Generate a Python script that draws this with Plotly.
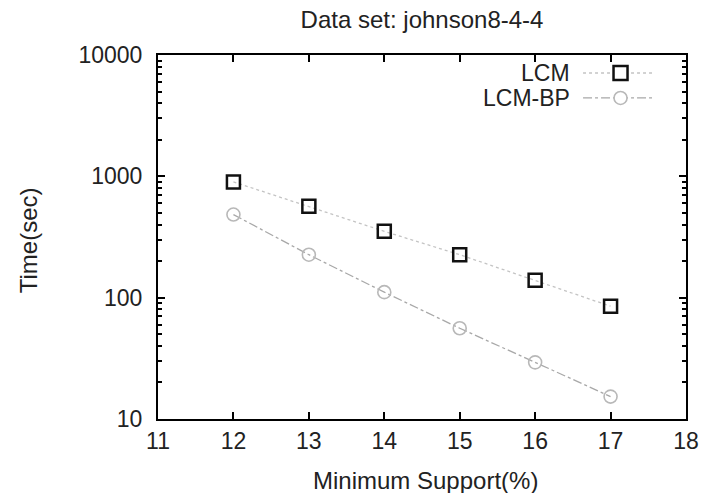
import math
import plotly.graph_objects as go

# ---- data ----
support = [12, 13, 14, 15, 16, 17]
lcm_time = [900, 566, 352, 226, 139, 85]
lcm_bp_time = [484, 226, 111, 56, 29.3, 15.3]
series_names = ["LCM", "LCM-BP"]
x_ticks = [11, 12, 13, 14, 15, 16, 17, 18]
y_ticks = [10, 100, 1000, 10000]
y_tick_text = ["10", "100", "1000", "10000"]
y_minor = [m * d for d in (10, 100, 1000) for m in range(2, 10)]

FONT = "Liberation Sans, Arial, sans-serif"
TXT = "#222222"

fig = go.Figure()
fig.add_trace(go.Scatter(
    x=support, y=lcm_time, name=series_names[0], mode="lines+markers",
    line=dict(color="#c4c4c4", width=1.3, dash="dot"),
    marker=dict(symbol="square-open", size=13, color="#111111",
                line=dict(width=2.5, color="#111111")),
))
fig.add_trace(go.Scatter(
    x=support, y=lcm_bp_time, name=series_names[1], mode="lines+markers",
    line=dict(color="#a8a8a8", width=1.3, dash="dashdot"),
    marker=dict(symbol="circle-open", size=13, color="#b8b8b8",
                line=dict(width=1.6, color="#b8b8b8")),
))

# Minor ticks: linear overlay axes spanning the same decades (log10 units),
# left and right. Invisible helper traces make sure these axes are drawn.
minor_pos = [math.log10(v) for v in y_minor]
for ax in ("y2", "y3"):
    fig.add_trace(go.Scatter(x=[support[0]], y=[math.log10(lcm_time[0])],
                             yaxis=ax, mode="markers",
                             marker=dict(opacity=0, size=1),
                             hoverinfo="skip", showlegend=False))

axis_common = dict(
    showline=True, linecolor="black", linewidth=2, mirror="ticks",
    ticks="inside", tickcolor="black", tickwidth=1.5, ticklen=7,
    showgrid=False, zeroline=False,
    tickfont=dict(family=FONT, size=23, color=TXT),
)
minor_axis = dict(
    type="linear", range=[1, 4], tickmode="array", tickvals=minor_pos,
    ticks="inside", ticklen=4, tickwidth=1.5, tickcolor="black",
    showticklabels=False, showline=False, showgrid=False, zeroline=False,
    overlaying="y", anchor="x", fixedrange=True,
)

fig.update_layout(
    width=711, height=493,
    margin=dict(l=158, r=19, t=55, b=74),
    paper_bgcolor="white", plot_bgcolor="white",
    showlegend=False,
    title=dict(text="Data set: johnson8-4-4", x=0.5, xref="paper",
               y=1 - 20 / 493, yref="container", yanchor="middle",
               font=dict(family=FONT, size=24, color=TXT)),
    xaxis=dict(range=[11, 18], tickvals=x_ticks,
               ticklabelstandoff=0, **axis_common),
    yaxis=dict(type="log", range=[1, 4], tickvals=y_ticks,
               ticktext=y_tick_text, ticklabelstandoff=9, **axis_common),
    yaxis2=dict(side="left", **minor_axis),
    yaxis3=dict(side="right", **minor_axis),
)

# legend (gnuplot style: text on the left, sample on the right)
leg_rows = [
    (series_names[0], 0.9505, "#c4c4c4", "dot", "square"),
    (series_names[1], 0.882, "#a8a8a8", "dashdot", "circle"),
]
for name, yy, lc, dash, sym in leg_rows:
    fig.add_annotation(text=name, xref="paper", yref="paper", x=0.785, y=yy,
                       showarrow=False, xanchor="right", yanchor="middle",
                       font=dict(family=FONT, size=23, color=TXT))
    fig.add_shape(type="line", xref="paper", yref="paper",
                  x0=0.805, x1=0.940, y0=yy, y1=yy,
                  line=dict(color=lc, width=1.3, dash=dash))
    if sym == "square":
        fig.add_shape(type="rect", xref="paper", yref="paper",
                      xsizemode="pixel", ysizemode="pixel",
                      xanchor=0.876, yanchor=yy, x0=-7, x1=7, y0=-7, y1=7,
                      fillcolor="white", line=dict(color="#111111", width=2.5))
    else:
        fig.add_shape(type="circle", xref="paper", yref="paper",
                      xsizemode="pixel", ysizemode="pixel",
                      xanchor=0.876, yanchor=yy, x0=-6.5, x1=6.5, y0=-6.5, y1=6.5,
                      fillcolor="white", line=dict(color="#b8b8b8", width=1.6))

# axis titles
fig.add_annotation(text="Minimum Support(%)", xref="paper", yref="paper",
                   x=0.507, y=-0.168, showarrow=False, xanchor="center",
                   yanchor="middle", font=dict(family=FONT, size=24, color=TXT))
fig.add_annotation(text="Time(sec)", xref="paper", yref="paper",
                   x=-0.245, y=0.49, showarrow=False, textangle=-90,
                   xanchor="center", yanchor="middle",
                   font=dict(family=FONT, size=24, color=TXT))

fig.write_html("out.html")
